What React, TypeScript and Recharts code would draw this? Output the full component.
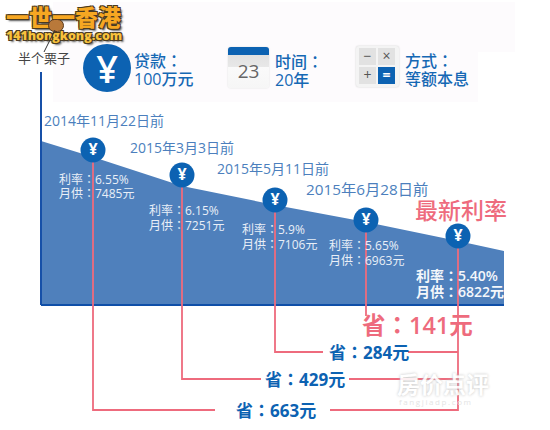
import { Area, ComposedChart, Line, ReferenceLine, XAxis, YAxis } from 'recharts';

// the TC face centres the full-width colon, as the picture does
const FONT = '"Open Sans", "Noto Sans CJK TC", sans-serif';
const BLUE = '#0c62b2';
const RED = '#ee6b7d';

// chart units: x runs along the axis, level is height over the base line
const areaPos = [0, 52, 141, 234, 325, 417, 463];
const areaLevels = [164, 148, 119, 100, 83, 64, 54];

const markerPos = [52, 141, 234, 325, 417];
const markerLevels = [155, 130, 105, 85, 69];

const dateTexts = ['2014年11月22日前', '2015年3月3日前', '2015年5月11日前'];
const datePos = [3, 89, 176];
const dateLevels = [183, 156, 135];

const rateTexts = ['利率：6.55%', '利率：6.15%', '利率：5.9%', '利率：5.65%'];
const payTexts = ['月供：7485元', '月供：7251元', '月供：7106元', '月供：6963元'];
const ratePos = [18, 108, 201, 288];
const rateLevels = [124, 93, 74, 58];
const payLevels = [110, 78, 59, 43];

const savingTexts = ['省：284元', '省：429元', '省：663元'];
const savingPos = [288, 224, 195];
const savingLevels = [-47, -74, -105];
const savingTextLevels = [-49, -76, -107];
const savingLeftEnd = [282, 220, 174];
const savingRightStart = [367, 308, 289];

const rowsOf = (pos: number[], levels: number[], texts?: string[]) =>
  pos.map((p, i) => ({ pos: p, level: levels[i], text: texts ? texts[i] : '' }));

function textDot(style: React.CSSProperties) {
  return (props: any) => (
    <text
      key={props.index}
      x={props.cx}
      y={props.cy}
      dominantBaseline="middle"
      style={{ fontFamily: FONT, ...style }}
    >
      {props.payload.text}
    </text>
  );
}

function coinDot(props: any) {
  return (
    <g key={props.index}>
      <circle cx={props.cx} cy={props.cy} r={12.5} fill={BLUE} />
      <text
        x={props.cx}
        y={props.cy + 1}
        textAnchor="middle"
        dominantBaseline="middle"
        style={{ fontFamily: FONT, fontSize: 16, fontWeight: 700, fill: '#fff' }}
      >
        ¥
      </text>
    </g>
  );
}

function TextLayer({ id, rows, style }: { id: string; rows: any[]; style: React.CSSProperties }) {
  return (
    <Line
      key={id}
      data={rows}
      dataKey="level"
      name={id}
      stroke="none"
      dot={textDot(style)}
      activeDot={false}
      legendType="none"
      isAnimationActive={false}
    />
  );
}

function box(x: number, y: number, w: number, h: number): React.CSSProperties {
  return { position: 'absolute', left: x, top: y, width: w, height: h };
}

function Caption({ x, y, lines }: { x: number; y: number; lines: string[] }) {
  return (
    <div style={{ position: 'absolute', left: x, top: y, color: '#1568b4', fontSize: 16, lineHeight: '18px', fontWeight: 500, whiteSpace: 'nowrap' }}>
      {lines.map((l) => <div key={l}>{l}</div>)}
    </div>
  );
}

function CalcKey({ x, y, label, on }: { x: number; y: number; label: string; on?: boolean }) {
  return (
    <div style={{
      ...box(x, y, 17, 17), background: on ? BLUE : '#e2e2e2', color: on ? '#fff' : '#555',
      fontSize: 14, lineHeight: '16px', textAlign: 'center', fontWeight: on ? 700 : 400,
    }}>{label}</div>
  );
}

function Header() {
  const glow = '1px 1px 0 #4a3a20, -1px 1px 0 #4a3a20, 1px -1px 0 #4a3a20, -1px -1px 0 #4a3a20, 2px 2px 2px #555';
  return (
    <>
      <div style={{ ...box(53, 2, 462, 50), background: '#fdfbfd' }} />
      <div style={{ ...box(53, 52, 425, 50), background: '#fdfbfd' }} />
      <div style={{ ...box(83, 44, 48, 48), borderRadius: 24, background: BLUE, color: '#fff', fontSize: 38, lineHeight: '48px', textAlign: 'center', fontWeight: 600 }}>¥</div>
      <Caption x={134} y={52} lines={['贷款：', '100万元']} />
      <div style={{ ...box(228, 47, 41, 41), borderRadius: 3, overflow: 'hidden', background: 'linear-gradient(#dcdcdc 0%, #e8e8e8 48%, #fafafa 50%, #f6f6f6 100%)', boxShadow: '0 0 2px #ddd' }}>
        <div style={{ height: 8, background: BLUE }} />
        <div style={{ color: '#666', fontSize: 19, lineHeight: '29px', textAlign: 'center', marginTop: 2 }}>23</div>
      </div>
      <Caption x={275} y={53} lines={['时间：', '20年']} />
      <div style={{ ...box(356, 46, 43, 41), borderRadius: 3, background: '#f4f4f4', boxShadow: '0 0 2px #ccc' }} />
      <CalcKey x={359} y={48} label="−" />
      <CalcKey x={378} y={48} label="×" />
      <CalcKey x={359} y={67} label="+" />
      <CalcKey x={378} y={67} label="=" on />
      <Caption x={405} y={52} lines={['方式：', '等额本息']} />

      <div style={{ ...box(6, 1, 122, 26), color: '#f6a722', fontSize: 23, lineHeight: '32px', fontWeight: 900, textShadow: glow, whiteSpace: 'nowrap' }}>一世一香港</div>
      <div style={{ ...box(6, 28, 122, 16), color: '#f8c23c', fontSize: 12.4, lineHeight: '16px', fontWeight: 800, textShadow: glow, whiteSpace: 'nowrap' }}>141hongkong.com</div>
      <div style={{ ...box(48, 19, 14, 11), borderRadius: 7, background: '#b9793a', border: '1px solid #5a3a1c' }} />
      <svg style={box(40, 28, 20, 26)}><line x1={15} y1={2} x2={4} y2={24} stroke="#333" strokeWidth={1} /></svg>
      <div style={{ ...box(18, 49, 60, 18), color: '#444', fontSize: 13, lineHeight: '18px', whiteSpace: 'nowrap' }}>半个栗子</div>
    </>
  );
}

function Watermark() {
  return (
    <>
      <div style={{ ...box(397, 371, 100, 25), color: '#fff', fontSize: 23, lineHeight: '26px', fontWeight: 700, textShadow: '0 0 3px #bbb', whiteSpace: 'nowrap', opacity: 0.9 }}>房价点评</div>
      <div style={{ ...box(399, 397, 100, 10), color: '#e4e4e4', fontSize: 8, lineHeight: '10px', letterSpacing: 1.6, whiteSpace: 'nowrap' }}>fangjiadp.com</div>
    </>
  );
}

export default function App() {
  const areaData = rowsOf(areaPos, areaLevels);
  const markers = rowsOf(markerPos, markerLevels);

  return (
    <div style={{ position: 'fixed', left: 0, top: 0, width: 550, height: 430, background: '#fff', fontFamily: FONT, overflow: 'hidden' }}>
      <div style={{ position: 'absolute', left: 0, top: 0 }}>
        <ComposedChart width={550} height={430} data={areaData} margin={{ top: 72, right: 46, bottom: 0, left: 41 }}>
          <XAxis dataKey="pos" type="number" domain={[0, 463]} hide allowDuplicatedCategory={false} />
          <YAxis type="number" domain={[-125, 233]} hide />
          <Area dataKey="level" type="linear" fill="#4f80bc" fillOpacity={1} stroke="none" baseValue={0} activeDot={false} dot={false} isAnimationActive={false} />
          <ReferenceLine segment={[{ x: 0, y: 0 }, { x: 0, y: 233 }]} stroke="#1650a8" strokeWidth={2} />
          <ReferenceLine segment={[{ x: 0, y: 0 }, { x: 463, y: 0 }]} stroke="#0f4fa8" strokeWidth={2} />

          {savingLevels.map((lv, i) => (
            <Line
              key={`left-${i}`}
              data={[
                { pos: markerPos[2 - i], level: markerLevels[2 - i] },
                { pos: markerPos[2 - i], level: lv },
                { pos: savingLeftEnd[i], level: lv },
              ]}
              dataKey="level"
              stroke={RED}
              strokeWidth={1.8}
              dot={false}
              activeDot={false}
              isAnimationActive={false}
            />
          ))}
          {savingLevels.map((lv, i) => (
            <Line
              key={`right-${i}`}
              data={[{ pos: savingRightStart[i], level: lv }, { pos: markerPos[4], level: lv }]}
              dataKey="level"
              stroke={RED}
              strokeWidth={1.8}
              dot={false}
              activeDot={false}
              isAnimationActive={false}
            />
          ))}
          <Line data={[{ pos: markerPos[3], level: markerLevels[3] }, { pos: markerPos[3], level: -11 }]} dataKey="level" stroke={RED} strokeWidth={1.8} dot={false} activeDot={false} isAnimationActive={false} />
          <Line data={[{ pos: markerPos[4], level: markerLevels[4] }, { pos: markerPos[4], level: -106 }]} dataKey="level" stroke={RED} strokeWidth={1.8} dot={false} activeDot={false} isAnimationActive={false} />

          <Line data={markers} dataKey="level" stroke="none" dot={coinDot} activeDot={false} isAnimationActive={false} />

          {TextLayer({ id: 'dates', rows: rowsOf(datePos, dateLevels, dateTexts), style: { fontSize: 14, fill: '#4c7fbd' } })}
          {TextLayer({ id: 'lastDate', rows: rowsOf([265], [114], ['2015年6月28日前']), style: { fontSize: 15.3, fill: '#4c7fbd' } })}
          {TextLayer({ id: 'rates', rows: rowsOf(ratePos, rateLevels, rateTexts), style: { fontSize: 12, fill: '#e9eff7' } })}
          {TextLayer({ id: 'pays', rows: rowsOf(ratePos, payLevels, payTexts), style: { fontSize: 12, fill: '#e9eff7' } })}
          {TextLayer({ id: 'latestRate', rows: rowsOf([375], [28], ['利率：5.40%']), style: { fontSize: 14, fontWeight: 600, fill: '#f4f7fb' } })}
          {TextLayer({ id: 'latestPay', rows: rowsOf([375], [12], ['月供：6822元']), style: { fontSize: 14, fontWeight: 600, fill: '#f4f7fb' } })}
          {TextLayer({ id: 'latest', rows: rowsOf([374], [92], ['最新利率']), style: { fontSize: 23, fontWeight: 500, fill: RED } })}
          {TextLayer({ id: 'saveLatest', rows: rowsOf([321], [-23], ['省：141元']), style: { fontSize: 23.5, fontWeight: 600, fill: RED } })}
          {TextLayer({ id: 'savings', rows: rowsOf(savingPos, savingTextLevels, savingTexts), style: { fontSize: 17, fontWeight: 700, fill: BLUE } })}
        </ComposedChart>
      </div>
      <Header />
      <Watermark />
    </div>
  );
}
